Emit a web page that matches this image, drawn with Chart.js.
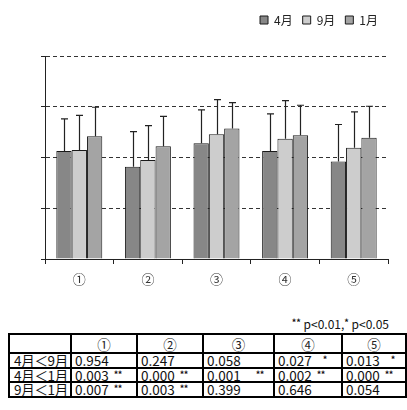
<!DOCTYPE html>
<html>
<head>
<meta charset="utf-8">
<script src="https://cdn.jsdelivr.net/npm/chart.js@4/dist/chart.umd.min.js"></script>
<style>
  html, body { margin: 0; padding: 0; background: #fff; }
  #wrap { position: relative; width: 407px; height: 410px; overflow: hidden;
          font-family: "Noto Sans CJK JP", "Noto Sans", sans-serif; color: #111;
          -webkit-font-smoothing: antialiased; }
  #chart { position: absolute; left: 0; top: 0; }
  #note { position: absolute; right: 18px; top: 316px; font-size: 12px; line-height: 16px; color: #111; }
  #note sup { font-size: 9px; vertical-align: 3px; line-height: 0; font-weight: bold; }
  #ptable { position: absolute; left: 8px; top: 333px; width: 397px; border-collapse: collapse;
            table-layout: fixed; font-size: 13.5px; color: #111; }
  #ptable td { border: 2px solid #000; padding: 0 0 0 3px; line-height: 12px;
               white-space: nowrap; overflow: hidden; }
  #ptable tr { height: 14.5px; }
  #ptable tr.head { height: 19px; }
  #ptable tr.head td { text-align: center; padding: 0; color: #222;
                       font-family: "Noto Sans CJK JP"; font-variant-emoji: text; }
  #ptable td.rowlab { padding-left: 4px; letter-spacing: -0.3px; }
  #ptable td sup { font-size: 9px; font-weight: bold; vertical-align: 3px; line-height: 0;
                   margin-left: 5px; letter-spacing: -0.5px; }
  #ptable td sup.one { margin-left: 11px; }
</style>
</head>
<body>
<div id="wrap">
  <canvas id="chart" width="407" height="300"></canvas>
  <div id="note"><sup>**</sup> p&lt;0.01,<sup>*</sup> p&lt;0.05</div>
  <table id="ptable"></table>
</div>
<script>
// Scale categories and survey months
const categories = ['①', '②', '③', '④', '⑤'];
const months = ['4月', '9月', '1月'];

// Mean scores per month
const april = [2.13, 1.82, 2.28, 2.13, 1.92];
const september = [2.15, 1.95, 2.46, 2.37, 2.19];
const january = [2.42, 2.22, 2.57, 2.44, 2.39];

// Standard deviations (drawn upward only)
const aprilSD = [0.63, 0.69, 0.66, 0.73, 0.73];
const septemberSD = [0.68, 0.68, 0.68, 0.75, 0.71];
const januarySD = [0.57, 0.59, 0.51, 0.59, 0.62];

// Y axis range and gridline step
const yMin = 0, yMax = 4, yStep = 1;

// Paired comparison results
const comparisons = ['4月＜9月', '4月＜1月', '9月＜1月'];
const pValues = [
  ['0.954', '0.247', '0.058', '0.027', '0.013'],
  ['0.003', '0.000', '0.001', '0.002', '0.000'],
  ['0.007', '0.003', '0.399', '0.646', '0.054']
];
const pMarks = [
  ['', '', '', '*', '*'],
  ['**', '**', '**', '**', '**'],
  ['**', '**', '', '', '']
];

const fills = ['#878787', '#cdcdcd', '#a4a4a4'];
const seriesValues = [april, september, january];
const seriesSD = [aprilSD, septemberSD, januarySD];

// Upward error bars with a short cap
const errorBars = {
  id: 'errorBars',
  afterDatasetsDraw(chart) {
    const ctx = chart.ctx;
    const y = chart.scales.y;
    ctx.save();
    ctx.strokeStyle = '#222';
    ctx.lineWidth = 1.2;
    chart.data.datasets.forEach((ds, di) => {
      const meta = chart.getDatasetMeta(di);
      meta.data.forEach((bar, i) => {
        const top = y.getPixelForValue(ds.data[i] + ds.sd[i]);
        const x = Math.round(bar.x) + 0.5;
        ctx.beginPath();
        ctx.moveTo(x, bar.y);
        ctx.lineTo(x, top);
        ctx.moveTo(x - 3.5, top);
        ctx.lineTo(x + 3.5, top);
        ctx.stroke();
      });
    });
    ctx.restore();
  }
};

// Extra room between the legend and the plot
const legendGap = {
  id: 'legendGap',
  beforeInit(chart) {
    const fit = chart.legend.fit;
    chart.legend.fit = function () {
      fit.bind(chart.legend)();
      this.height += 20;
    };
  }
};

new Chart(document.getElementById('chart'), {
  type: 'bar',
  data: {
    labels: categories,
    datasets: months.map((m, k) => ({
      label: m,
      data: seriesValues[k],
      sd: seriesSD[k],
      backgroundColor: fills[k],
      borderColor: '#1a1a1a',
      borderWidth: 1,
      categoryPercentage: 0.67,
      barPercentage: 1.0
    }))
  },
  options: {
    responsive: false,
    animation: false,
    layout: { padding: { left: 35, right: 19, top: 4, bottom: 11 } },
    plugins: {
      legend: {
        position: 'top',
        align: 'end',
        labels: {
          boxWidth: 8,
          boxHeight: 8,
          padding: 10,
          color: '#222',
          font: { family: '"Noto Sans CJK JP", sans-serif', size: 12 }
        }
      },
      tooltip: { enabled: false }
    },
    scales: {
      x: {
        afterFit(scale) { scale.height = 30; },
        border: { display: true, color: '#222', width: 1 },
        grid: { display: true, drawOnChartArea: false, tickLength: 5, color: '#222', offset: true },
        ticks: { color: '#333', padding: 7, font: { family: '"Noto Sans CJK JP", sans-serif', size: 13 } }
      },
      y: {
        min: yMin,
        max: yMax,
        afterFit(scale) { scale.width = 10; },
        border: { display: true, color: '#222', width: 1, dash: [4, 3] },
        grid: {
          color: (c) => (c.tick && c.tick.value === 0 ? 'rgba(0,0,0,0)' : '#333'),
          tickColor: '#222',
          tickBorderDash: [],
          tickLength: 4,
          lineWidth: 1
        },
        ticks: { display: false, stepSize: yStep }
      }
    }
  },
  plugins: [errorBars, legendGap]
});

// Build the comparison table
const table = document.getElementById('ptable');
const colW = [62, 66, 66, 71, 68, 64];
const cg = document.createElement('colgroup');
colW.forEach(w => { const c = document.createElement('col'); c.style.width = w + 'px'; cg.appendChild(c); });
table.appendChild(cg);
const head = document.createElement('tr');
head.className = 'head';
head.appendChild(document.createElement('td'));
categories.forEach(c => { const td = document.createElement('td'); td.textContent = c; head.appendChild(td); });
table.appendChild(head);
comparisons.forEach((label, r) => {
  const tr = document.createElement('tr');
  const th = document.createElement('td');
  th.className = 'rowlab';
  th.textContent = label;
  tr.appendChild(th);
  pValues[r].forEach((v, c) => {
    const td = document.createElement('td');
    td.appendChild(document.createTextNode(v));
    if (pMarks[r][c]) {
      const s = document.createElement('sup');
      s.textContent = pMarks[r][c];
      if (pMarks[r][c].length === 1) s.className = 'one';
      if (r === 1 && c === 2) s.style.marginLeft = '15px';
      td.appendChild(s);
    }
    tr.appendChild(td);
  });
  table.appendChild(tr);
});
</script>
</body>
</html>
